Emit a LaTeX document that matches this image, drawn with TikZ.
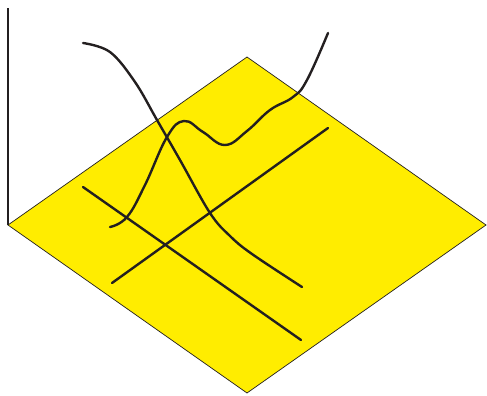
\documentclass[tikz,border=0pt]{standalone}
\usepackage{tikz}
\definecolor{pyellow}{RGB}{255,237,0}
\definecolor{pdark}{RGB}{35,31,32}

\begin{document}
\begin{tikzpicture}[x=0.025cm, y=-0.025cm, line cap=round]
  \useasboundingbox (0,0) rectangle (487,395);
  % Plane
  \coordinate (pl) at (8,225);
  \coordinate (pt) at (247,57);
  \coordinate (pr) at (486,225);
  \coordinate (pb) at (247,393);
  \filldraw[fill=pyellow, draw=pdark, line width=0.5pt] (pl) -- (pt) -- (pr) -- (pb) -- cycle;
  % Vertical axis
  \coordinate (ax) at (8,8);
  \draw[pdark, line width=1.7pt, line cap=butt] (pl) -- (ax);
  % Straight lines on the plane
  \draw[pdark, line width=1.7pt] (83,187) -- (301,340);
  \draw[pdark, line width=1.7pt] (112,283) -- (328,128);
  % Falling curve
  \draw[pdark, line width=1.7pt] plot[smooth, tension=0.6] coordinates {
    (83,43) (110,52) (135,82) (157,120) (180,160) (210,213) (230,236) (252,254) (302,287)};
  % Wavy curve
  \draw[pdark, line width=1.7pt] plot[smooth, tension=0.7] coordinates {
    (110,227) (127,217) (145,185) (167,137) (184,121) (203,132) (225,145) (247,131)
    (270,110) (293,97) (307,80) (328,33)};
\end{tikzpicture}
\end{document}
